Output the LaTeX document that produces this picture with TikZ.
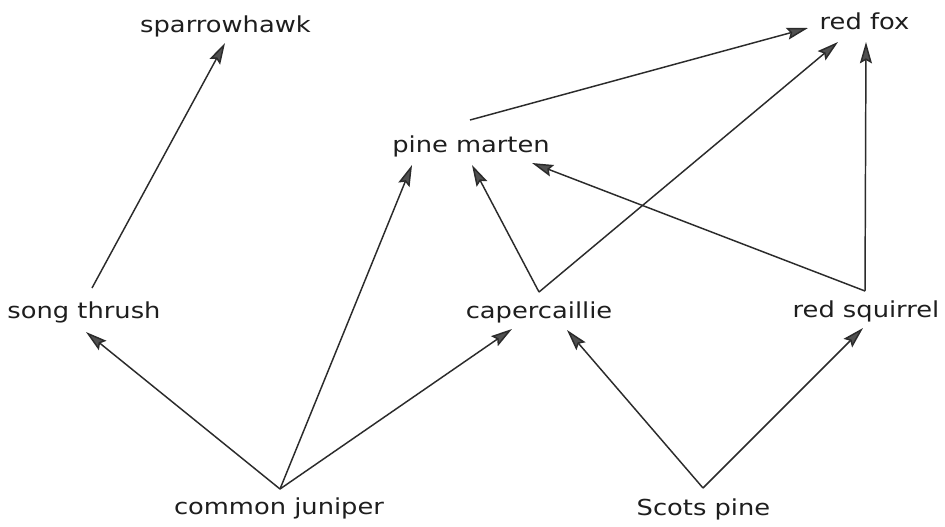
\documentclass[tikz,border=0pt]{standalone}
\usepackage{fontspec}
\setmainfont{DejaVu Sans}[FakeStretch=1.17]
\usetikzlibrary{arrows.meta}
\definecolor{linec}{HTML}{2B2B2B}
\definecolor{headc}{HTML}{505050}
\definecolor{textc}{HTML}{1E1E1E}
\begin{document}
\begin{tikzpicture}[x=0.75pt,y=-0.75pt,
  lbl/.style={anchor=base,inner sep=0pt,font=\fontsize{16.5pt}{20pt}\selectfont,text=textc},
  arr/.style={draw=linec,line width=1.1pt,-{Stealth[length=16pt,width=9pt,inset=2.5pt,fill=headc]}}]
\fill[white] (0,0) rectangle (945,526);
\node[lbl] (sh)  at (225.5,32) {sparrowhawk};
\node[lbl] (rf)  at (864.5,29) {red fox};
\node[lbl] (pm)  at (471,152)  {pine marten};
\node[lbl] (st)  at (84,318)   {song thrush};
\node[lbl] (cap) at (539,318)  {capercaillie};
\node[lbl] (rs)  at (866,317)  {red squirrel};
\node[lbl] (cj)  at (279,514)  {common juniper};
\node[lbl] (sp)  at (703.5,515) {Scots pine};
% song thrush -> sparrowhawk
\draw[arr] ([shift={(8,-30)}]st.base) -- ([shift={(-0.5,11)}]sh.base);
% common juniper -> song thrush, pine marten, capercaillie
\draw[arr] ([shift={(1,-25)}]cj.base) -- ([shift={(2,14)}]st.base);
\draw[arr] ([shift={(1,-25)}]cj.base) -- ([shift={(-59,13)}]pm.base);
\draw[arr] ([shift={(1,-25)}]cj.base) -- ([shift={(-27,11)}]cap.base);
% capercaillie -> pine marten, red fox
\draw[arr] ([shift={(0,-26)}]cap.base) -- ([shift={(1,13)}]pm.base);
\draw[arr] ([shift={(0,-26)}]cap.base) -- ([shift={(-26.5,13)}]rf.base);
% pine marten -> red fox
\draw[arr] ([shift={(-1,-32)}]pm.base) -- ([shift={(-56.5,-1)}]rf.base);
% red squirrel -> red fox, pine marten
\draw[arr] ([shift={(-1,-26)}]rs.base) -- ([shift={(1.5,13)}]rf.base);
\draw[arr] ([shift={(-1,-26)}]rs.base) -- ([shift={(61,11)}]pm.base);
% Scots pine -> capercaillie, red squirrel
\draw[arr] ([shift={(-0.5,-27)}]sp.base) -- ([shift={(28,12)}]cap.base);
\draw[arr] ([shift={(-0.5,-27)}]sp.base) -- ([shift={(-3,11)}]rs.base);
\end{tikzpicture}
\end{document}
